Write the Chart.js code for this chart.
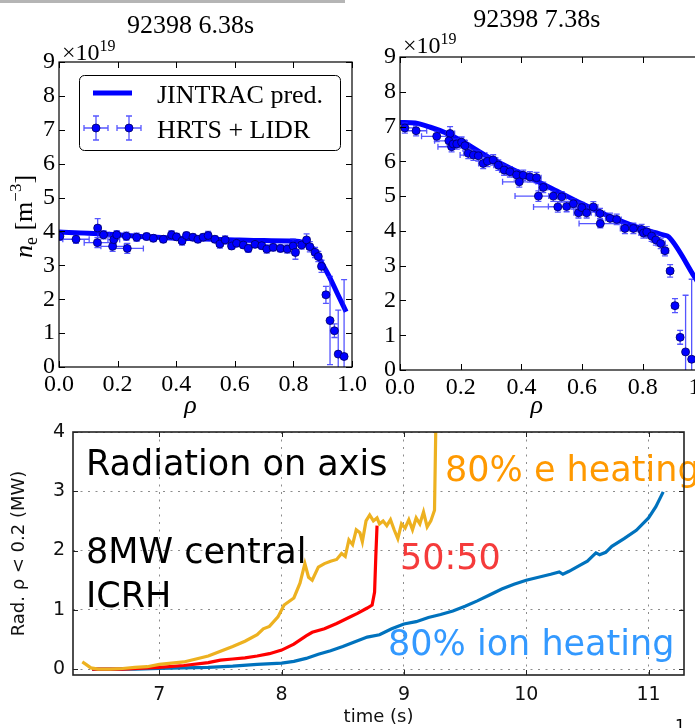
<!DOCTYPE html>
<html>
<head>
<meta charset="utf-8">
<script src="https://cdn.jsdelivr.net/npm/chart.js@4.4.0/dist/chart.umd.min.js"></script>
<style>
  html, body { margin: 0; padding: 0; background: #fff; }
  body { width: 695px; height: 728px; position: relative; overflow: hidden; }
  canvas { position: absolute; }
  #topbar { position: absolute; left: 0; top: 0; width: 345px; height: 3px; background: #b5b5b5; }
  #pageno { position: absolute; left: 675px; top: 716px; font: 16px "DejaVu Sans", sans-serif; color: #000; }
</style>
</head>
<body>
<div id="topbar"></div>
<canvas id="left" width="380" height="420" style="left:0;top:0"></canvas>
<canvas id="right" width="380" height="420" style="left:360px;top:0"></canvas>
<canvas id="bottom" width="695" height="318" style="left:0;top:410px"></canvas>
<div id="pageno">1</div>
<script>
const SERIF = '"Liberation Serif", "Times New Roman", serif';
const SANS = '"DejaVu Sans", sans-serif';

// ---- 92398 6.38s (units of 1e19 m^-3) ----
const rhoA = [0.003, 0.058, 0.132, 0.131, 0.152, 0.183, 0.187, 0.197, 0.233, 0.23, 0.265, 0.299, 0.322, 0.356, 0.384, 0.401,
  0.42, 0.435, 0.457, 0.474, 0.492, 0.509, 0.532, 0.549, 0.567, 0.589, 0.606, 0.629, 0.646, 0.669, 0.692, 0.709,
  0.731, 0.756, 0.779, 0.799, 0.807, 0.828, 0.845, 0.856, 0.874, 0.885, 0.896, 0.911, 0.925, 0.94, 0.953, 0.973];
const neA = [3.86, 3.77, 4.1, 3.67, 3.9, 3.56, 3.76, 3.9, 3.5, 3.86, 3.83, 3.85, 3.8, 3.77, 3.9, 3.84,
  3.72, 3.88, 3.83, 3.77, 3.83, 3.88, 3.77, 3.63, 3.75, 3.57, 3.65, 3.6, 3.5, 3.62, 3.58, 3.48,
  3.53, 3.5, 3.48, 3.57, 3.38, 3.6, 3.75, 3.55, 3.38, 3.26, 2.97, 2.13, 1.37, 1.07, 0.38, 0.31];
const neErrA = [0.12, 0.12, 0.28, 0.15, 0.12, 0.15, 0.12, 0.12, 0.15, 0.12, 0.12, 0.1, 0.1, 0.1, 0.12, 0.1,
  0.12, 0.1, 0.1, 0.1, 0.1, 0.12, 0.1, 0.12, 0.12, 0.1, 0.1, 0.1, 0.12, 0.1, 0.1, 0.12,
  0.1, 0.1, 0.12, 0.2, 0.2, 0.12, 0.18, 0.15, 0.15, 0.15, 0.18, 0.25, 1.3, 0.2, 1.3, 2.27];
const rhoErrA = [0.01, 0.045, 0.01, 0.045, 0.02, 0.04, 0.02, 0.01, 0.055, 0.01, 0.01, 0.01, 0.01, 0.01, 0.01, 0.01,
  0.01, 0.01, 0.01, 0.01, 0.01, 0.01, 0.01, 0.01, 0.01, 0.01, 0.01, 0.01, 0.01, 0.01, 0.01, 0.01,
  0.01, 0.01, 0.01, 0.01, 0.01, 0.01, 0.01, 0.01, 0.01, 0.01, 0.01, 0.01, 0.008, 0.008, 0.008, 0.01];
const predRhoA = [0, 0.1, 0.2, 0.3, 0.4, 0.5, 0.6, 0.7, 0.8, 0.835, 0.867, 0.895, 0.923, 0.95, 0.98];
const predNeA = [3.98, 3.95, 3.9, 3.84, 3.8, 3.78, 3.75, 3.73, 3.72, 3.67, 3.5, 3.1, 2.66, 2.17, 1.63];

// ---- 92398 7.38s ----
const rhoB = [0.016, 0.053, 0.121, 0.165, 0.161, 0.17, 0.175, 0.187, 0.203, 0.214, 0.225, 0.242, 0.258, 0.274, 0.288, 0.307,
  0.324, 0.343, 0.362, 0.384, 0.393, 0.406, 0.428, 0.45, 0.456, 0.472, 0.505, 0.52, 0.533, 0.549, 0.571, 0.588,
  0.599, 0.615, 0.637, 0.659, 0.66, 0.692, 0.714, 0.741, 0.769, 0.796, 0.802, 0.813, 0.829, 0.843, 0.859, 0.873,
  0.89, 0.906, 0.923, 0.941, 0.961];
const neB = [6.96, 6.88, 6.72, 6.8, 6.59, 6.42, 6.5, 6.5, 6.55, 6.45, 6.23, 6.18, 6.16, 5.94, 6.0, 6.04,
  5.89, 5.75, 5.7, 5.61, 5.41, 5.6, 5.55, 5.53, 5.0, 5.25, 5.0, 4.69, 4.98, 4.7, 4.78, 4.52,
  4.67, 4.52, 4.69, 4.5, 4.21, 4.36, 4.33, 4.07, 4.07, 4.04, 3.94, 3.97, 3.85, 3.74, 3.64, 3.43,
  2.85, 1.85, 0.94, 0.52, 0.31];
const neErrB = [0.15, 0.15, 0.15, 0.2, 0.15, 0.15, 0.15, 0.15, 0.15, 0.15, 0.15, 0.15, 0.15, 0.15, 0.15, 0.15,
  0.15, 0.15, 0.15, 0.15, 0.15, 0.15, 0.15, 0.15, 0.15, 0.15, 0.15, 0.15, 0.15, 0.15, 0.15, 0.15,
  0.15, 0.15, 0.15, 0.15, 0.12, 0.15, 0.15, 0.15, 0.15, 0.15, 0.15, 0.15, 0.15, 0.15, 0.15, 0.15,
  0.18, 0.2, 0.2, 1.63, 2.3];
const rhoErrB = [0.03, 0.035, 0.05, 0.015, 0.047, 0.045, 0.015, 0.015, 0.015, 0.015, 0.015, 0.044, 0.015, 0.015, 0.015, 0.015,
  0.015, 0.015, 0.015, 0.015, 0.055, 0.015, 0.015, 0.015, 0.077, 0.015, 0.015, 0.08, 0.015, 0.06, 0.015, 0.015,
  0.015, 0.015, 0.015, 0.015, 0.07, 0.015, 0.015, 0.015, 0.015, 0.015, 0.015, 0.015, 0.015, 0.015, 0.015, 0.012,
  0.01, 0.01, 0.01, 0.008, 0.008];
const predRhoB = [0, 0.05, 0.1, 0.15, 0.2, 0.3, 0.4, 0.5, 0.6, 0.7, 0.8, 0.87, 0.885, 0.97, 1.0];
const predNeB = [7.12, 7.1, 6.98, 6.82, 6.6, 6.08, 5.65, 5.22, 4.78, 4.38, 4.05, 3.88, 3.83, 2.68, 2.25];

// ---- Radiation inside rho < 0.2 (MW) vs time (s) ----
const tE = [6.37, 6.4, 6.44, 6.5, 6.6, 6.7, 6.8, 6.9, 7.0, 7.1, 7.2, 7.3, 7.4, 7.5, 7.6, 7.7, 7.8, 7.85, 7.9, 7.97,
  8.02, 8.1, 8.15, 8.19, 8.22, 8.25, 8.3, 8.35, 8.4, 8.45, 8.49, 8.52, 8.55, 8.58, 8.61, 8.64, 8.66, 8.69, 8.72, 8.75,
  8.78, 8.8, 8.83, 8.86, 8.89, 8.92, 8.95, 8.98, 9.01, 9.04, 9.07, 9.1, 9.13, 9.16, 9.19, 9.22, 9.25, 9.26];
const radE = [0.12, 0.08, 0.02, 0.0, 0.0, 0.01, 0.03, 0.04, 0.08, 0.1, 0.12, 0.17, 0.22, 0.3, 0.38, 0.47, 0.58, 0.68, 0.72, 0.88,
  1.08, 1.2, 1.45, 1.78, 1.55, 1.5, 1.72, 1.78, 1.82, 1.85, 1.95, 1.9, 2.18, 2.1, 2.35, 2.3, 2.15, 2.5, 2.6, 2.5,
  2.55, 2.45, 2.5, 2.42, 2.52, 2.35, 2.2, 2.45, 2.38, 2.52, 2.35, 2.55, 2.45, 2.65, 2.4, 2.5, 2.68, 4.0];
const tMix = [6.45, 6.7, 6.9, 7.0, 7.2, 7.4, 7.5, 7.6, 7.7, 7.8, 7.9, 8.0, 8.1, 8.2, 8.25, 8.35, 8.45, 8.55, 8.62, 8.7,
  8.74, 8.76, 8.77, 8.78];
const radMix = [0.0, 0.0, 0.02, 0.03, 0.06, 0.11, 0.15, 0.17, 0.19, 0.22, 0.26, 0.32, 0.42, 0.56, 0.62, 0.68, 0.77, 0.87, 0.94, 1.03,
  1.08, 1.3, 1.9, 2.42];
const tIon = [6.45, 6.8, 7.0, 7.2, 7.4, 7.6, 7.8, 8.0, 8.1, 8.2, 8.3, 8.4, 8.5, 8.6, 8.7, 8.8, 8.9, 9.0, 9.1, 9.2,
  9.3, 9.4, 9.5, 9.6, 9.7, 9.8, 9.9, 10.0, 10.1, 10.2, 10.27, 10.3, 10.35, 10.43, 10.5, 10.57, 10.6, 10.65, 10.7, 10.8,
  10.9, 11.0, 11.06, 11.12];
const radIon = [0.0, 0.0, 0.01, 0.02, 0.03, 0.05, 0.08, 0.1, 0.13, 0.18, 0.25, 0.31, 0.38, 0.46, 0.54, 0.58, 0.68, 0.76, 0.8, 0.87,
  0.92, 0.98, 1.06, 1.15, 1.25, 1.35, 1.43, 1.5, 1.55, 1.6, 1.64, 1.6, 1.65, 1.74, 1.82, 1.96, 1.93, 1.97, 2.07, 2.2,
  2.34, 2.55, 2.74, 2.99];

// text placed in data coordinates of the bottom panel
const noteText = ['Radiation on axis', '8MW central', 'ICRH', '80% e heating', '50:50', '80% ion heating'];
const noteX = [6.4, 6.4, 6.4, 9.336, 8.968, 8.87];
const noteY = [3.27, 1.79, 1.04, 3.17, 1.69, 0.235];
const noteColor = ['#000', '#000', '#000', '#ff9900', '#f53b3b', '#3399ff'];

function pairs(xs, ys) {
  return xs.map((x, i) => ({ x: x, y: ys[i] }));
}

// box around the axes plus inward ticks on all four sides
const frameTicks = {
  id: 'frameTicks',
  afterDraw(chart, args, o) {
    const { ctx, chartArea: a, scales: { x, y } } = chart;
    ctx.save();
    ctx.strokeStyle = o.color;
    ctx.lineWidth = o.width;
    ctx.strokeRect(a.left, a.top, a.right - a.left, a.bottom - a.top);
    ctx.lineWidth = 1;
    ctx.beginPath();
    x.ticks.forEach(t => {
      const px = Math.round(x.getPixelForValue(t.value)) + 0.5;
      ctx.moveTo(px, a.bottom); ctx.lineTo(px, a.bottom - o.len);
      ctx.moveTo(px, a.top); ctx.lineTo(px, a.top + o.len);
    });
    y.ticks.forEach(t => {
      const py = Math.round(y.getPixelForValue(t.value)) + 0.5;
      ctx.moveTo(a.left, py); ctx.lineTo(a.left + o.len, py);
      ctx.moveTo(a.right, py); ctx.lineTo(a.right - o.len, py);
    });
    ctx.stroke();
    ctx.restore();
  }
};

// matplotlib-style error bars with caps, drawn just under the markers
const errorBars = {
  id: 'errorBars',
  beforeDatasetDraw(chart, args) {
    const ds = chart.data.datasets[args.index];
    if (!ds.errY) return;
    const { ctx, chartArea: a, scales: { x, y } } = chart;
    ctx.save();
    ctx.beginPath();
    ctx.rect(a.left, a.top, a.right - a.left, a.bottom - a.top);
    ctx.clip();
    ctx.strokeStyle = 'rgba(30,30,255,0.75)';
    ctx.lineWidth = 1.3;
    ctx.beginPath();
    ds.data.forEach((p, i) => {
      const px = x.getPixelForValue(p.x), py = y.getPixelForValue(p.y);
      const y0 = y.getPixelForValue(p.y - ds.errY[i]), y1 = y.getPixelForValue(p.y + ds.errY[i]);
      const x0 = x.getPixelForValue(p.x - ds.errX[i]), x1 = x.getPixelForValue(p.x + ds.errX[i]);
      ctx.moveTo(px, y0); ctx.lineTo(px, y1);
      ctx.moveTo(px - 3, y0); ctx.lineTo(px + 3, y0);
      ctx.moveTo(px - 3, y1); ctx.lineTo(px + 3, y1);
      ctx.moveTo(x0, py); ctx.lineTo(x1, py);
      ctx.moveTo(x0, py - 3); ctx.lineTo(x0, py + 3);
      ctx.moveTo(x1, py - 3); ctx.lineTo(x1, py + 3);
    });
    ctx.stroke();
    ctx.restore();
  }
};

// title, rho label, x10^19 and (left panel) the n_e label
const panel = {
  id: 'panel',
  afterDraw(chart, args, o) {
    const { ctx, chartArea: a } = chart;
    const cx = (a.left + a.right) / 2 + o.shift;
    ctx.save();
    ctx.fillStyle = '#000';
    ctx.textBaseline = 'alphabetic';
    ctx.textAlign = 'center';
    ctx.font = '26px ' + SERIF;
    ctx.fillText(o.title, cx, o.titleY);
    ctx.font = 'italic 26px ' + SERIF;
    ctx.fillText('ρ', cx, o.xlabelY);
    ctx.textAlign = 'left';
    ctx.font = '24px ' + SERIF;
    ctx.fillText('×10', a.left + 3, a.top - o.sciDrop);
    const w = ctx.measureText('×10').width;
    ctx.font = '16px ' + SERIF;
    ctx.fillText('19', a.left + 3 + w, a.top - o.sciDrop - 9);
    if (o.ylabel) {
      ctx.translate(32, (a.top + a.bottom) / 2 + 2);
      ctx.rotate(-Math.PI / 2);
      const parts = [
        ['n', 'italic 26px ' + SERIF, 0],
        ['e', '18px ' + SERIF, 5],
        [' [m', '26px ' + SERIF, 0],
        ['−3', '17px ' + SERIF, -11],
        [']', '26px ' + SERIF, 0]
      ];
      let total = 0;
      parts.forEach(p => { ctx.font = p[1]; total += ctx.measureText(p[0]).width; });
      let xx = -total / 2;
      parts.forEach(p => {
        ctx.font = p[1];
        ctx.fillText(p[0], xx, p[2]);
        xx += ctx.measureText(p[0]).width;
      });
    }
    ctx.restore();
  }
};

const mplLegend = {
  id: 'mplLegend',
  afterDraw(chart, args, o) {
    if (!o.show) return;
    const { ctx, chartArea: a } = chart;
    const ds = chart.data.datasets;
    const bx = a.left + 20, by = a.top + 13, bw = 261, bh = 75, r = 5;
    ctx.save();
    ctx.fillStyle = '#fff';
    ctx.strokeStyle = '#000';
    ctx.lineWidth = 1;
    ctx.beginPath();
    ctx.roundRect(bx + 0.5, by + 0.5, bw, bh, r);
    ctx.fill();
    ctx.stroke();
    // line sample
    ctx.strokeStyle = ds[0].borderColor;
    ctx.lineWidth = 5;
    ctx.beginPath();
    ctx.moveTo(a.left + 34, a.top + 31); ctx.lineTo(a.left + 73, a.top + 31);
    ctx.stroke();
    // error bar samples
    [a.left + 37, a.left + 70].forEach(mx => {
      const my = a.top + 66;
      ctx.strokeStyle = 'rgba(30,30,255,0.75)';
      ctx.lineWidth = 1.3;
      ctx.beginPath();
      ctx.moveTo(mx - 12, my); ctx.lineTo(mx + 12, my);
      ctx.moveTo(mx - 12, my - 3); ctx.lineTo(mx - 12, my + 3);
      ctx.moveTo(mx + 12, my - 3); ctx.lineTo(mx + 12, my + 3);
      ctx.moveTo(mx, my - 12); ctx.lineTo(mx, my + 12);
      ctx.moveTo(mx - 3, my - 12); ctx.lineTo(mx + 3, my - 12);
      ctx.moveTo(mx - 3, my + 12); ctx.lineTo(mx + 3, my + 12);
      ctx.stroke();
      ctx.fillStyle = ds[1].backgroundColor;
      ctx.strokeStyle = ds[1].borderColor;
      ctx.lineWidth = 0.8;
      ctx.beginPath();
      ctx.arc(mx, my, 4, 0, Math.PI * 2);
      ctx.fill();
      ctx.stroke();
    });
    ctx.fillStyle = '#000';
    ctx.font = '26px ' + SERIF;
    ctx.textBaseline = 'alphabetic';
    ctx.fillText(ds[0].label, a.left + 98, a.top + 41);
    ctx.fillText(ds[1].label, a.left + 98, a.top + 76);
    ctx.restore();
  }
};

function profileChart(id, o) {
  return new Chart(document.getElementById(id), {
    type: 'scatter',
    data: {
      datasets: [
        {
          label: 'JINTRAC pred.',
          data: pairs(o.predRho, o.predNe),
          showLine: true,
          borderColor: '#0000ff',
          borderWidth: 5,
          pointRadius: 0,
          cubicInterpolationMode: 'monotone',
          order: 2,
        },
        {
          label: 'HRTS + LIDR',
          data: pairs(o.rho, o.ne),
          errX: o.rhoErr,
          errY: o.neErr,
          pointRadius: 4,
          backgroundColor: '#0000ff',
          borderColor: '#000060',
          borderWidth: 0.8,
          order: 1,
        }
      ]
    },
    options: {
      responsive: false,
      animation: false,
      events: [],
      layout: { padding: { top: o.top, right: o.padRight, left: 0, bottom: 0 } },
      plugins: {
        legend: { display: false },
        tooltip: { enabled: false },
        frameTicks: { color: '#000', width: 1.2, len: 6 },
        mplLegend: { show: o.legend },
        panel: { title: o.title, titleY: o.titleY, xlabelY: 413, shift: -15, sciDrop: o.sciDrop, ylabel: o.legend },
      },
      scales: {
        x: {
          type: 'linear', min: 0, max: 1,
          grid: { display: false, drawTicks: false },
          border: { display: false },
          ticks: { stepSize: 0.2, padding: 3, color: '#000', maxRotation: 0, autoSkip: false,
                   font: { family: SERIF, size: 24 }, callback: v => v.toFixed(1) },
          afterFit: s => { s.height = o.xh; }
        },
        y: {
          type: 'linear', min: 0, max: 9,
          grid: { display: false, drawTicks: false },
          border: { display: false },
          ticks: { stepSize: 1, padding: 4, color: '#000', font: { family: SERIF, size: 24 },
                   callback: v => String(v) },
          afterFit: s => { s.width = o.yw; }
        }
      }
    },
    plugins: [errorBars, frameTicks, mplLegend, panel]
  });
}

profileChart('left', {
  rho: rhoA, ne: neA, rhoErr: rhoErrA, neErr: neErrA, predRho: predRhoA, predNe: predNeA,
  title: '92398 6.38s', titleY: 33, top: 62, padRight: 28, xh: 53, yw: 59, sciDrop: 2, legend: true
});
profileChart('right', {
  rho: rhoB, ne: neB, rhoErr: rhoErrB, neErr: neErrB, predRho: predRhoB, predNe: predNeB,
  title: '92398 7.38s', titleY: 27, top: 57, padRight: 36.5, xh: 50, yw: 40, sciDrop: 4, legend: false
});

const notes = {
  id: 'notes',
  afterDatasetsDraw(chart) {
    const { ctx, scales: { x, y } } = chart;
    ctx.save();
    ctx.font = '35px ' + SANS;
    ctx.textAlign = 'left';
    ctx.textBaseline = 'alphabetic';
    noteText.forEach((t, i) => {
      ctx.fillStyle = noteColor[i];
      ctx.fillText(t, x.getPixelForValue(noteX[i]), y.getPixelForValue(noteY[i]));
    });
    ctx.restore();
  }
};

new Chart(document.getElementById('bottom'), {
  type: 'scatter',
  data: {
    datasets: [
      { label: '80% e heating', data: pairs(tE, radE), showLine: true, borderColor: '#edb120', borderWidth: 3.2, pointRadius: 0, order: 0 },
      { label: '50:50', data: pairs(tMix, radMix), showLine: true, borderColor: '#ff0000', borderWidth: 3.2, pointRadius: 0, order: 1 },
      { label: '80% ion heating', data: pairs(tIon, radIon), showLine: true, borderColor: '#0072bd', borderWidth: 3.2, pointRadius: 0, order: 2 },
    ]
  },
  options: {
    responsive: false,
    animation: false,
    events: [],
    layout: { padding: { top: 22, right: 11, left: 0, bottom: 0 } },
    plugins: {
      legend: { display: false },
      tooltip: { enabled: false },
      frameTicks: { color: '#222', width: 1.6, len: 5 },
    },
    scales: {
      x: {
        type: 'linear', min: 6.294, max: 11.29,
        grid: { color: '#8c8c8c', drawTicks: false },
        border: { display: false, dash: [2, 5.5] },
        ticks: { stepSize: 1, includeBounds: false, padding: 9, color: '#111', maxRotation: 0,
                 font: { family: SANS, size: 19 } },
        title: { display: true, text: 'time (s)', color: '#111', font: { family: SANS, size: 18 }, padding: { top: 0, bottom: 0 } },
        afterFit: s => { s.height = 53; }
      },
      y: {
        type: 'linear', min: -0.1, max: 4,
        grid: { color: '#8c8c8c', drawTicks: false },
        border: { display: false, dash: [2, 5.5] },
        ticks: { stepSize: 1, includeBounds: false, padding: 8, color: '#111', font: { family: SANS, size: 19 } },
        title: { display: true, text: 'Rad. ρ < 0.2 (MW)', color: '#111', font: { family: SANS, size: 18 }, padding: { top: 9, bottom: 0 } },
        afterFit: s => { s.width = 73; }
      }
    }
  },
  plugins: [frameTicks, notes]
});
</script>
</body>
</html>
